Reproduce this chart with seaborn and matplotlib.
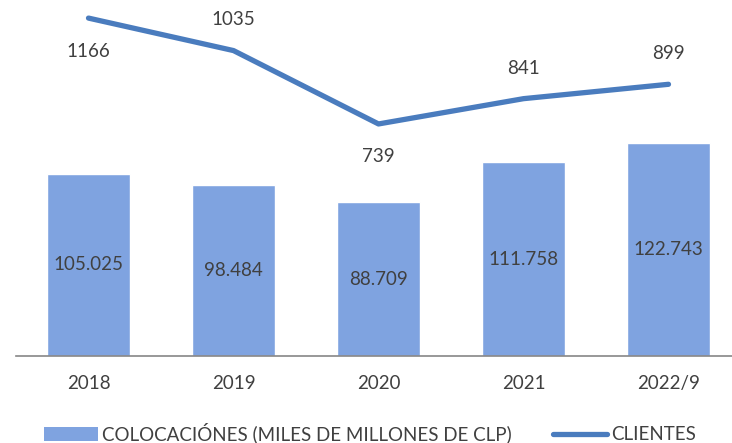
import matplotlib
matplotlib.use("Agg")
import matplotlib.pyplot as plt
import seaborn as sns
import pandas as pd
from matplotlib.lines import Line2D
from matplotlib.patches import Patch

years = ["2018", "2019", "2020", "2021", "2022/9"]
colocaciones = [105025, 98484, 88709, 111758, 122743]
clientes = [1166, 1035, 739, 841, 899]
bar_label_name = "COLOCACIÓNES (MILES DE MILLONES DE CLP)"
line_label_name = "CLIENTES"

BAR_COLOR = "#7FA3E0"
LINE_COLOR = "#4A7CBE"
TEXT_COLOR = "#404040"
AXIS_COLOR = "#868686"

sns.set_theme(style="white")
plt.rcParams["font.family"] = ["Lato", "DejaVu Sans"]

df = pd.DataFrame({"year": years, "colocaciones": colocaciones, "clientes": clientes})

fig = plt.figure(figsize=(7.32, 4.43), dpi=100)
W, H = 732, 443
ax = fig.add_axes([16 / W, (H - 356) / H, 725 / W, 356 / H])

sns.barplot(data=df, x="year", y="colocaciones", color=BAR_COLOR, width=0.566,
            saturation=1, ax=ax, zorder=2)
ax.set_xlim(-0.5, 4.5)
ax.set_ylim(0, 205400)

fmt = [f"{v:,}".replace(",", ".") for v in colocaciones]
ax.bar_label(ax.containers[0], labels=fmt, label_type="center",
             color=TEXT_COLOR, fontsize=13.5)

for s in ["top", "right", "left"]:
    ax.spines[s].set_visible(False)
ax.spines["bottom"].set_color(AXIS_COLOR)
ax.spines["bottom"].set_linewidth(1.2)
ax.set_yticks([])
ax.set_xlabel("")
ax.set_ylabel("")
ax.tick_params(axis="x", which="major", length=0, pad=14, labelsize=13.5,
               labelcolor=TEXT_COLOR)
ax.set_xticks([x - 0.5 for x in range(len(years) + 1)], minor=True)
ax.tick_params(axis="x", which="minor", length=6, width=1.2, color=AXIS_COLOR,
               direction="out")

ax2 = ax.twinx()
sns.lineplot(data=df, x="year", y="clientes", color=LINE_COLOR, linewidth=3.8,
             ax=ax2, sort=False)
for ln in ax2.lines:
    ln.set_solid_capstyle("round")
    ln.set_clip_on(False)
ax2.set_ylim(-197, 1239)
ax2.set_xlim(-0.5, 4.5)
ax2.set_yticks([])
ax2.set_ylabel("")
ax2.set_xlabel("")
for s in ["top", "right", "left", "bottom"]:
    ax2.spines[s].set_visible(False)

offsets = [-33, 31, -33, 30, 31]
for i, (v, off) in enumerate(zip(clientes, offsets)):
    ax2.annotate(str(v), (i, v), xytext=(0, off * 0.72), textcoords="offset points",
                 ha="center", va="center", fontsize=13.5, color=TEXT_COLOR)

handles = [Patch(facecolor=BAR_COLOR, edgecolor="none"),
           Line2D([0], [0], color=LINE_COLOR, linewidth=3.8, solid_capstyle="round")]
fig.legend(handles, [bar_label_name, line_label_name], loc="center",
           bbox_to_anchor=(370 / W, 1 - 433 / H), ncol=2, frameon=False,
           fontsize=13.5, labelcolor=TEXT_COLOR, handlelength=2.9, handleheight=0.8,
           handletextpad=0.2, columnspacing=2.2)

fig.savefig("out.png", dpi=100)
